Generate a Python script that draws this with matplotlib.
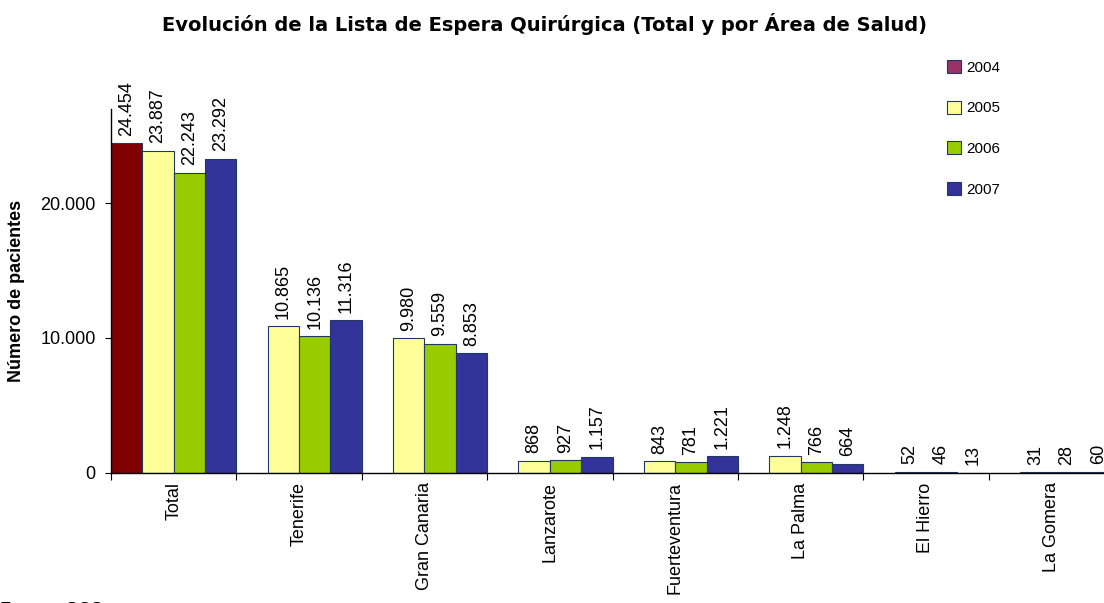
import numpy as np
import matplotlib
matplotlib.use("Agg")
import matplotlib.pyplot as plt
from matplotlib.patches import Patch

plt.rcParams['font.family'] = ['Liberation Sans', 'DejaVu Sans']

# data
areas = ["Total", "Tenerife", "Gran Canaria", "Lanzarote", "Fuerteventura",
         "La Palma", "El Hierro", "La Gomera"]
years = ["2004", "2005", "2006", "2007"]
y2004 = [24454, np.nan, np.nan, np.nan, np.nan, np.nan, np.nan, np.nan]
y2005 = [23887, 10865, 9980, 868, 843, 1248, 52, 31]
y2006 = [22243, 10136, 9559, 927, 781, 766, 46, 28]
y2007 = [23292, 11316, 8853, 1157, 1221, 664, 13, 60]

bar_colors = ["#800000", "#FFFF99", "#99CC00", "#333399"]
legend_colors = ["#993366", "#FFFF99", "#99CC00", "#333399"]
edge = "#1F3864"


def fmt(v):
    if np.isnan(v):
        return ""
    return f"{int(v):,}".replace(",", ".")


fig = plt.figure(figsize=(11.04, 6.03), dpi=100)
ax = fig.add_axes([111 / 1104, 1 - 472.7 / 603, 1003 / 1104, 363.7 / 603])

x = np.arange(len(areas))
w = 0.25
for k, vals in enumerate([y2004, y2005, y2006, y2007]):
    vals = np.array(vals, dtype=float)
    bars = ax.bar(x + k * w, vals, width=w, align="edge", color=bar_colors[k],
                  edgecolor=edge, linewidth=0.8)
    ax.bar_label(bars, labels=[fmt(v) for v in vals], rotation=90, padding=5.5,
                 fontsize=13)

ax.set_xlim(0, len(areas))
ax.set_ylim(0, 27000)
ax.set_yticks([0, 10000, 20000])
ax.set_yticklabels(["0", "10.000", "20.000"])

ax.set_xticks(np.arange(len(areas) + 1))
ax.set_xticklabels([])
ax.set_xticks(x + 0.5, minor=True)
ax.set_xticklabels(areas, minor=True, rotation=90, va="top", ha="center")
ax.tick_params(axis="x", which="minor", length=0, pad=7, labelsize=13)
ax.tick_params(axis="x", which="major", length=5, direction="out")
ax.tick_params(axis="y", length=4, pad=7, labelsize=13)

for s in ["top", "right"]:
    ax.spines[s].set_visible(False)
ax.spines["left"].set_linewidth(1)
ax.spines["bottom"].set_linewidth(1)

fig.text(545 / 1104, 1 - 31 / 603,
         "Evolución de la Lista de Espera Quirúrgica (Total y por Área de Salud)",
         ha="center", va="baseline", fontsize=14, fontweight="bold",
         family=["DejaVu Sans"])
fig.text(17 / 1104, 1 - 291 / 603, "Número de pacientes", rotation=90,
         ha="center", va="center", fontsize=13, fontweight="bold")
fig.text(0.0, 1 - 615 / 603, "Fuente: SCS", ha="left", va="baseline", fontsize=13)

handles = [Patch(facecolor=c, edgecolor=edge, linewidth=0.8) for c in legend_colors]
ax.legend(handles, years, loc="upper left", bbox_to_anchor=(947 / 1104, 1 - 60 / 603),
          bbox_transform=fig.transFigure, frameon=False, fontsize=11,
          handlelength=0.92, handleheight=0.92, handletextpad=0.35,
          labelspacing=1.7, borderpad=0, borderaxespad=0)

fig.savefig("out.png", dpi=100)
